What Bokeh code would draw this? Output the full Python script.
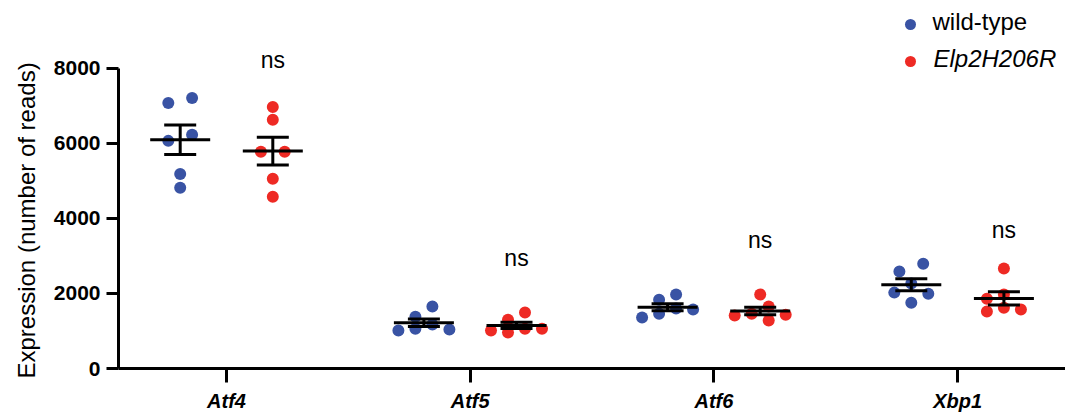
import numpy as np
from bokeh.plotting import figure
from bokeh.models import Range1d, FixedTicker, Title
from bokeh.core.properties import value
from bokeh.embed import file_html
from bokeh.resources import INLINE

# ---------------- data ----------------
genes = ["Atf4", "Atf5", "Atf6", "Xbp1"]

wt_atf4 = [7200, 7070, 6220, 6060, 5180, 4810]
wt_atf5 = [1650, 1380, 1170, 1060, 1040, 1010]
wt_atf6 = [1970, 1830, 1600, 1570, 1460, 1360]
wt_xbp1 = [2790, 2580, 2260, 2020, 1990, 1750]

mut_atf4 = [6960, 6620, 5770, 5770, 5050, 4570]
mut_atf5 = [1490, 1300, 1060, 1060, 1010, 960]
mut_atf6 = [1970, 1650, 1460, 1430, 1410, 1280]
mut_xbp1 = [2660, 1970, 1860, 1620, 1570, 1520]

wild_type = [wt_atf4, wt_atf5, wt_atf6, wt_xbp1]
mutant = [mut_atf4, mut_atf5, mut_atf6, mut_xbp1]

ns_labels = ["ns", "ns", "ns", "ns"]
ns_heights = [8200, 2930, 3410, 3700]

legend_labels = ["wild-type", "Elp2H206R"]
y_ticks = [0, 2000, 4000, 6000, 8000]
y_axis_title = "Expression (number of reads)"

# ---------------- style / layout ----------------
BLUE = "#3953A4"
RED = "#EE2A24"
FONT = "Liberation Sans"

BORDER_L, BORDER_B = 118, 51
FRAME_W, FRAME_H = 1065 - BORDER_L, 419 - BORDER_B
PX_X = 243.7                 # pixels per category
PX_Y = 300.5 / 8000          # pixels per read
X0 = -(226 - BORDER_L) / PX_X
X1 = X0 + FRAME_W / PX_X
Y0 = 0
Y1 = FRAME_H / PX_Y
GROUP_OFF = 0.19
DOT = 12
STEP = 17
MEAN_HALF = 30 / PX_X
CAP_HALF = 16 / PX_X

# page (screen) -> data helpers for the legend placement
FRAME_SX, FRAME_SY = BORDER_L, 0


def sx2x(sx):
    return X0 + (sx - FRAME_SX) / PX_X


def sy2y(sy):
    return Y1 - (sy - FRAME_SY) / PX_Y


def swarm(vals):
    """simple beeswarm: pixel-space offsets, returned in data units"""
    n = len(vals)
    order = sorted(range(n), key=lambda i: -vals[i])
    ys = [v * PX_Y for v in vals]
    xs = [0.0] * n
    placed = []
    cands = [0] + [s * j for j in range(1, 10) for s in (-1, 1)]
    for i in order:
        for c in cands:
            x = c * STEP
            if all(np.hypot(x - xs[j], ys[i] - ys[j]) >= DOT for j in placed):
                xs[i] = x
                placed.append(i)
                break
    clusters = []
    for i in order:
        if clusters and ys[clusters[-1][-1]] - ys[i] < DOT:
            clusters[-1].append(i)
        else:
            clusters.append([i])
    for cl in clusters:
        shift = -(min(xs[j] for j in cl) + max(xs[j] for j in cl)) / 2
        if len(cl) == 2:
            for j in cl:
                xs[j] = (xs[j] + shift) * 1.4
        else:
            for j in cl:
                xs[j] += shift
    return [x / PX_X for x in xs]


p = figure(frame_width=FRAME_W, frame_height=FRAME_H,
           x_range=Range1d(X0, X1), y_range=Range1d(Y0, Y1),
           output_backend="svg", toolbar_location=None,
           min_border_left=BORDER_L, min_border_right=0,
           min_border_top=0, min_border_bottom=BORDER_B)
p.outline_line_color = None
p.xgrid.visible = False
p.ygrid.visible = False
p.background_fill_color = "white"

sx0, sx1, sy0, sy1 = [], [], [], []
for gi, (wt, mu) in enumerate(zip(wild_type, mutant)):
    for vals, sign, color in ((wt, -1, BLUE), (mu, 1, RED)):
        cx = gi + sign * GROUP_OFF
        offs = swarm(vals)
        p.scatter(x=[cx + o for o in offs], y=vals, size=DOT,
                  fill_color=color, line_color=None)
        m = float(np.mean(vals))
        sem = float(np.std(vals, ddof=1) / np.sqrt(len(vals)))
        # mean line
        sx0.append(cx - MEAN_HALF); sx1.append(cx + MEAN_HALF); sy0.append(m); sy1.append(m)
        # whisker
        sx0.append(cx); sx1.append(cx); sy0.append(m - sem); sy1.append(m + sem)
        # caps
        for yy in (m - sem, m + sem):
            sx0.append(cx - CAP_HALF); sx1.append(cx + CAP_HALF); sy0.append(yy); sy1.append(yy)

p.segment(x0=sx0, y0=sy0, x1=sx1, y1=sy1, line_color="black", line_width=3)

# ns annotations above mutant groups
p.text(x=[i + GROUP_OFF for i in range(len(genes))], y=ns_heights, text=ns_labels,
       text_font=value(FONT), text_font_size="23px", text_color="black",
       text_align="center", text_baseline="middle")

# legend (manual, so the second label can be italic)
p.scatter(x=[sx2x(910)], y=[sy2y(24)], size=11, fill_color=BLUE, line_color=None)
p.scatter(x=[sx2x(910)], y=[sy2y(61)], size=11, fill_color=RED, line_color=None)
p.text(x=[sx2x(932)], y=[sy2y(21)], text=[legend_labels[0]],
       text_font=value(FONT), text_font_size="24px", text_color="black",
       text_align="left", text_baseline="middle")
p.text(x=[sx2x(933)], y=[sy2y(58)], text=[legend_labels[1]],
       text_font=value(FONT), text_font_size="24px", text_font_style="italic",
       text_color="black", text_align="left", text_baseline="middle")

# y-axis title in the left panel, shifted so it is centred on 0..8000
p.add_layout(Title(text=y_axis_title, align="left", offset=-10, standoff=18,
                   vertical_align="top",
                   text_font=FONT, text_font_size="24px",
                   text_font_style="normal", text_color="black"), "left")

# axes
ya = p.yaxis[0]
ya.ticker = FixedTicker(ticks=y_ticks)
ya.bounds = (0, 8000)
ya.major_label_text_font = FONT
ya.major_label_text_font_size = "21px"
ya.major_label_text_font_style = "bold"
ya.major_label_text_color = "black"
ya.major_label_standoff = 6
ya.axis_line_width = 3
ya.major_tick_line_width = 3
ya.major_tick_out = 12
ya.major_tick_in = 0
ya.minor_tick_line_color = None
ya.axis_line_color = "black"

xa = p.xaxis[0]
xa.ticker = FixedTicker(ticks=list(range(len(genes))))
xa.major_label_overrides = {i: g for i, g in enumerate(genes)}
xa.major_label_text_font = FONT
xa.major_label_text_font_size = "20px"
xa.major_label_text_font_style = "bold italic"
xa.major_label_text_color = "black"
xa.major_label_standoff = 7
xa.axis_line_width = 3
xa.major_tick_line_width = 3
xa.major_tick_out = 14
xa.major_tick_in = 0
xa.minor_tick_line_color = None
xa.axis_line_color = "black"

open("out.html", "w").write(file_html(p, INLINE))
